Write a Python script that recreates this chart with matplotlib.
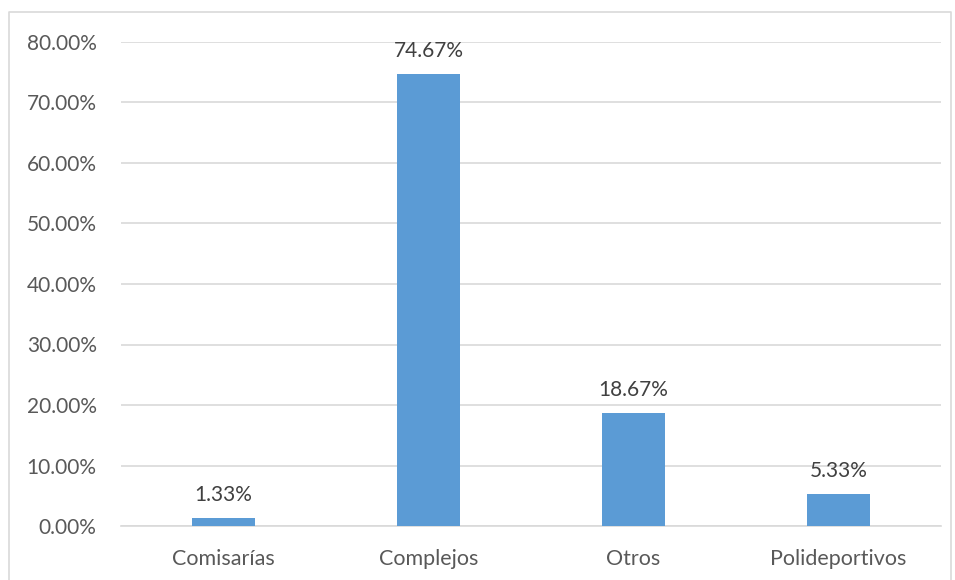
import matplotlib
matplotlib.use("Agg")
import matplotlib.pyplot as plt
from matplotlib.lines import Line2D

categories = ["Comisarías", "Complejos", "Otros", "Polideportivos"]
values = [1.33, 74.67, 18.67, 5.33]
yticks = [0, 10, 20, 30, 40, 50, 60, 70, 80]

W, H = 955, 580
fig = plt.figure(figsize=(W/100, H/100), dpi=100)
plt.rcParams['font.family'] = ['Lato', 'DejaVu Sans']
txt = '#595959'

ax = fig.add_axes([121/W, 1-526/H, (941-121)/W, (526-42)/H])
x = range(len(categories))
ax.bar(x, values, width=0.31, color='#5b9bd5', zorder=3)
ax.set_xlim(-0.5, len(categories)-0.5)
ax.set_ylim(0, 80)
ax.set_yticks(yticks)
ax.set_yticklabels([f"{v:.2f}%" for v in yticks], color=txt, fontsize=15)
ax.set_xticks(list(x))
ax.set_xticklabels(categories, color=txt, fontsize=15.5)
ax.tick_params(length=0)
ax.tick_params(axis='x', pad=16.5)
ax.tick_params(axis='y', pad=17.5)
ax.grid(axis='y', color='#d9d9d9', linewidth=1.2, zorder=0)
for s in ['top', 'right', 'left']:
    ax.spines[s].set_visible(False)
ax.spines['bottom'].set_color('#d9d9d9')
ax.spines['bottom'].set_linewidth(1.2)
for i, v in enumerate(values):
    ax.annotate(f"{v:.2f}%", (i, v), xytext=(0, 9.5), textcoords='offset points',
                ha='center', va='bottom', color='#404040', fontsize=15)

# outer chart frame
fx = [9/W, 9/W, 951/W, 951/W]
fy = [0, 1-12/H, 1-12/H, 0]
fig.add_artist(Line2D(fx, fy, color='#d9d9d9', linewidth=1.2, transform=fig.transFigure))

fig.savefig("out.png", dpi=100)
